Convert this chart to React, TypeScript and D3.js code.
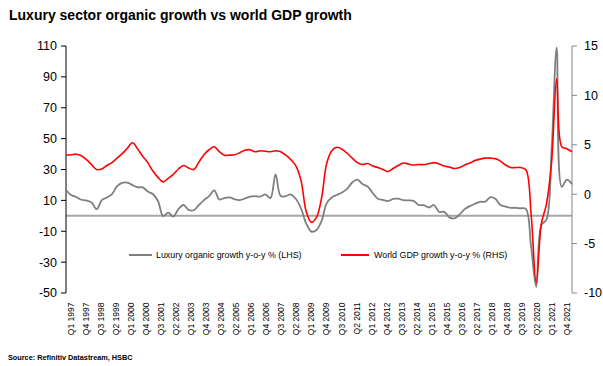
import React, { useRef, useEffect } from 'react';
import * as d3 from 'd3';

const years = d3.range(1997, 2022);
const quarters = years.flatMap((y) => ['Q1', 'Q2', 'Q3', 'Q4'].map((q) => `${q} ${y}`));

// Luxury organic growth y-o-y % (LHS)
const luxuryGrowth = [
  16.7, 13.5, 12.2, 10.4, 9.9, 8.6, 4.3, 10.2, 11.9, 14.1,
  19.3, 21.4, 21.5, 19.9, 18.5, 18.4, 15.7, 14.1, 9.6, -0.1,
  2.1, -0.5, 4.4, 7.0, 3.8, 3.6, 7.0, 10.2, 12.8, 16.5,
  10.6, 11.5, 11.9, 10.7, 10.2, 11.2, 12.5, 12.8, 12.5, 13.9,
  11.5, 26.8, 12.8, 12.8, 13.8, 10.9, 4.7, -5.0, -10.2, -9.2,
  -3.4, 8.1, 11.9, 13.5, 15.1, 17.5, 21.6, 23.5, 20.6, 19.0,
  14.8, 11.1, 10.3, 9.5, 10.9, 11.1, 10.1, 10.0, 9.7, 7.0,
  6.9, 5.4, 7.0, 2.5, 2.6, -1.0, -1.6, 0.8, 4.3, 6.3,
  7.8, 9.1, 9.1, 12.0, 11.0, 7.0, 6.0, 5.2, 5.2, 4.9,
  4.4, -20.0, -46.0, -6.0, -2.5, 42.0, 109.0, 18.8, 23.5, 20.5,
];

// World GDP growth y-o-y % (RHS)
const gdpGrowth = [
  3.97, 4.0, 4.05, 3.9, 3.5, 3.0, 2.5, 2.55, 2.9, 3.2,
  3.65, 4.1, 4.65, 5.2, 4.6, 3.85, 3.2, 2.35, 1.7, 1.25,
  1.6, 2.0, 2.55, 2.9, 2.65, 2.5, 3.25, 4.0, 4.5, 4.8,
  4.3, 3.95, 3.95, 4.0, 4.2, 4.45, 4.5, 4.3, 4.4, 4.35,
  4.3, 4.4, 4.3, 3.95, 3.5, 2.85, 1.35, -1.75, -2.85, -2.35,
  -0.4, 3.1, 4.4, 4.75, 4.55, 4.15, 3.65, 3.2, 3.0, 3.1,
  2.85, 2.7, 2.5, 2.3, 2.6, 2.9, 3.15, 3.05, 2.95, 3.0,
  3.0, 3.1, 3.2, 3.05, 2.85, 2.75, 2.6, 2.7, 2.95, 3.15,
  3.4, 3.55, 3.65, 3.65, 3.6, 3.35, 2.95, 2.7, 2.7, 2.7,
  2.45, -2.0, -9.0, -3.0, -1.0, 3.2, 11.7, 4.8, 4.6, 4.3,
];

const leftTicks = [110, 90, 70, 50, 30, 10, -10, -30, -50];
const rightTicks = [15, 10, 5, 0, -5, -10];

const W = 603;
const H = 366;
const TITLE = 'Luxury sector organic growth vs world GDP growth';
const SOURCE = 'Source: Refinitiv Datastream, HSBC';
const LUX_LABEL = 'Luxury organic growth y-o-y % (LHS)';
const GDP_LABEL = 'World GDP growth y-o-y % (RHS)';

const SANS = 'Liberation Sans, Arial, sans-serif';
const NARROW = 'Liberation Sans Narrow, Arial Narrow, Liberation Sans, sans-serif';

export default function App() {
  const svgRef = useRef(null);

  useEffect(() => {
    const svg = d3.select(svgRef.current);
    svg.selectAll('*').remove();

    const left = 66;
    const right = 572;
    const top = 46;
    const bottom = 293;

    const x = d3.scalePoint().domain(quarters).range([left, right]);
    const xLab = d3.scaleBand().domain(quarters).range([left, right]).paddingOuter(0.5);
    const yL = d3.scaleLinear().domain([-50, 110]).range([bottom, top]);
    const yR = d3.scaleLinear().domain([-10, 15]).range([bottom, top]);

    svg.append('rect').attr('width', W).attr('height', H).attr('fill', '#fff');

    // Title
    svg.append('text')
      .attr('x', 9)
      .attr('y', 20)
      .attr('font-family', SANS)
      .attr('font-size', 14)
      .attr('font-weight', 'bold')
      .attr('fill', '#000')
      .text(TITLE);

    // Zero (category) axis
    svg.append('line')
      .attr('x1', left).attr('x2', right)
      .attr('y1', yL(0)).attr('y2', yL(0))
      .attr('stroke', '#a6a6a6')
      .attr('stroke-width', 2);

    // Left axis
    const gl = svg.append('g');
    gl.append('line')
      .attr('x1', left).attr('x2', left)
      .attr('y1', top).attr('y2', bottom)
      .attr('stroke', '#000').attr('stroke-width', 1);
    leftTicks.forEach((t) => {
      gl.append('line')
        .attr('x1', left - 5).attr('x2', left)
        .attr('y1', yL(t)).attr('y2', yL(t))
        .attr('stroke', '#000');
      gl.append('text')
        .attr('x', 57)
        .attr('y', yL(t))
        .attr('dy', '0.35em')
        .attr('text-anchor', 'end')
        .attr('font-family', NARROW)
        .attr('font-size', 12.5)
        .attr('fill', '#000')
        .text(t);
    });

    // Right axis
    const gr = svg.append('g');
    gr.append('line')
      .attr('x1', right).attr('x2', right)
      .attr('y1', top).attr('y2', bottom)
      .attr('stroke', '#868686').attr('stroke-width', 1);
    rightTicks.forEach((t) => {
      gr.append('line')
        .attr('x1', right).attr('x2', right + 5)
        .attr('y1', yR(t)).attr('y2', yR(t))
        .attr('stroke', '#868686');
      gr.append('text')
        .attr('x', 584)
        .attr('y', yR(t))
        .attr('dy', '0.35em')
        .attr('font-family', NARROW)
        .attr('font-size', 12.5)
        .attr('fill', '#000')
        .text(t);
    });

    // Category labels (every third quarter)
    quarters.forEach((q, i) => {
      if (i % 3 !== 0) return;
      const cx = xLab(q) + xLab.bandwidth() / 2;
      svg.append('text')
        .attr('transform', `translate(${cx}, 302.5) rotate(-90)`)
        .attr('text-anchor', 'end')
        .attr('dy', '0.35em')
        .attr('font-family', SANS)
        .attr('font-size', 8.5)
        .attr('fill', '#000')
        .text(q);
    });

    // Lines
    const curve = d3.curveCatmullRom.alpha(0.5);
    const luxLine = d3.line().x((d, i) => x(quarters[i])).y((d) => yL(d)).curve(curve);
    const gdpLine = d3.line().x((d, i) => x(quarters[i])).y((d) => yR(d)).curve(curve);

    svg.append('path')
      .attr('d', luxLine(luxuryGrowth))
      .attr('fill', 'none')
      .attr('stroke', '#7f7f7f')
      .attr('stroke-width', 1.8);

    svg.append('path')
      .attr('d', gdpLine(gdpGrowth))
      .attr('fill', 'none')
      .attr('stroke', '#ff0000')
      .attr('stroke-width', 1.6);

    // Legend
    const legend = [
      { x1: 129, x2: 152, tx: 156, color: '#7f7f7f', label: LUX_LABEL },
      { x1: 341, x2: 369, tx: 374, color: '#ff0000', label: GDP_LABEL },
    ];
    legend.forEach((l) => {
      svg.append('line')
        .attr('x1', l.x1).attr('x2', l.x2)
        .attr('y1', 255).attr('y2', 255)
        .attr('stroke', l.color)
        .attr('stroke-width', 2);
      svg.append('text')
        .attr('x', l.tx)
        .attr('y', 255)
        .attr('dy', '0.35em')
        .attr('font-family', SANS)
        .attr('font-size', 8.9)
        .attr('fill', '#000')
        .text(l.label);
    });

    // Source
    svg.append('text')
      .attr('x', 8)
      .attr('y', 360)
      .attr('font-family', SANS)
      .attr('font-size', 7.3)
      .attr('font-weight', 'bold')
      .attr('fill', '#000')
      .text(SOURCE);
  }, []);

  return (
    <svg
      ref={svgRef}
      width={W}
      height={H}
      style={{ position: 'absolute', left: 0, top: 0 }}
    />
  );
}
